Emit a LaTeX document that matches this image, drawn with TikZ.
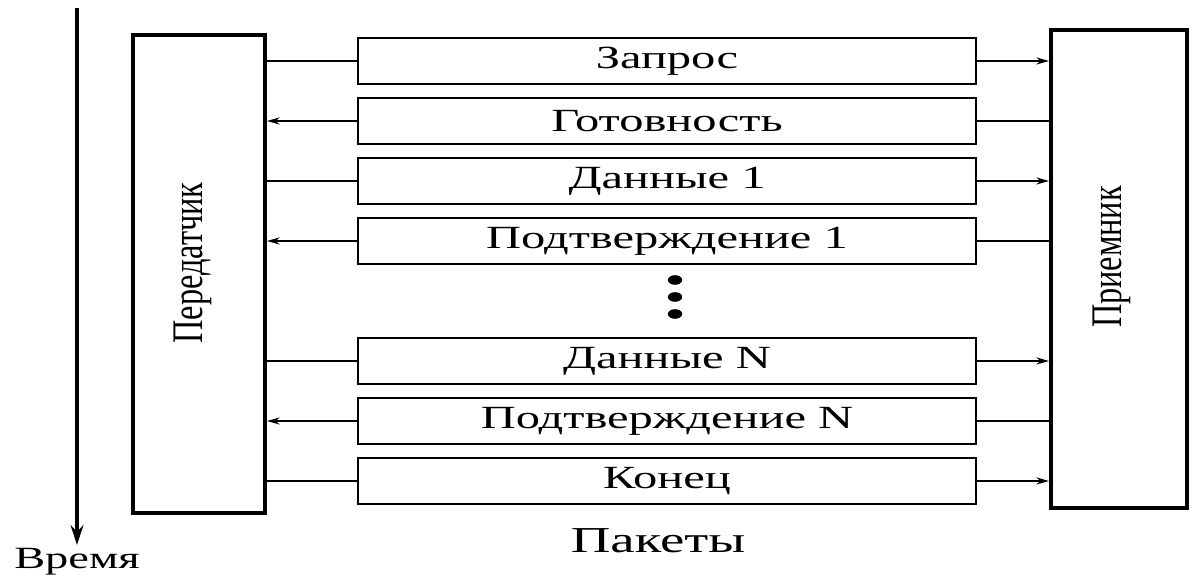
\documentclass[tikz,border=0pt]{standalone}
\usepackage{fontspec}
\setmainfont{Liberation Serif}
\usepackage{graphicx}
\usetikzlibrary{arrows.meta}

\newcommand{\wide}[1]{\scalebox{1.5}[1]{#1}}
\newcommand{\tall}[1]{\scalebox{1}[1.35]{#1}}

\begin{document}
\begin{tikzpicture}[
  station/.style = {draw, line width = 2.8pt, minimum width = 3.3cm, minimum height = 11.95cm},
  packet/.style = {draw, line width = 2pt, minimum width = 15.45cm, minimum height = 1.15cm, inner sep = 0pt, font = \fontsize{23}{23}\selectfont},
  link/.style = {line width = 1.4pt},
  msg/.style = {link, -{Stealth[length = 9pt, width = 5pt]}}
]
\useasboundingbox (0,0) rectangle (29.8,14.475);
\node [station] (tx) at (4.975,7.625) {};
\node [station, minimum width = 3.4cm] (rx) at (27.975,7.75) {};
\node [rotate = 90, font = \fontsize{23}{23}\selectfont] (txname) at (4.83,7.9) {\tall{Передатчик}};
\node [rotate = 90, font = \fontsize{23}{23}\selectfont] (rxname) at (27.8,8.05) {\tall{Приемник}};

\node [packet] (p1) at (16.675,12.95) {\wide{Запрос}};
\node [packet] (p2) at (16.675,11.45) {\wide{Готовность}};
\node [packet] (p3) at (16.675,9.95) {\wide{Данные 1}};
\node [packet] (p4) at (16.675,8.45) {\wide{Подтверждение 1}};
\node [packet] (p5) at (16.675,5.45) {\wide{Данные N}};
\node [packet] (p6) at (16.675,3.95) {\wide{Подтверждение N}};
\node [packet] (p7) at (16.675,2.45) {\wide{Конец}};
\node [font = \fontsize{26}{26}\selectfont] (pkts) at (16.45,0.95) {\wide{Пакеты}};

% ... between the two parts
\foreach \y in {7.475,7.05,6.625}
  \fill (16.875,\y) ellipse (0.18 and 0.12);

% sender -> receiver
\foreach \p in {p1,p3,p5,p7} {
  \draw [link] (tx.east |- \p.west) -- (\p.west);
  \draw [msg] (\p.east) -- (rx.west |- \p.east);
}
% receiver -> sender
\foreach \p in {p2,p4,p6} {
  \draw [msg] (\p.west) -- (tx.east |- \p.west);
  \draw [link] (\p.east) -- (rx.west |- \p.east);
}

\coordinate (t0) at (1.925,14.275);
\coordinate (t1) at (1.925,0.85);
\draw [line width = 2.4pt, -{Stealth[length = 14pt, width = 9pt]}] (t0) -- (t1)
  node [below, inner sep = 1pt, font = \fontsize{22}{22}\selectfont] (time) {\wide{Время}};
\end{tikzpicture}
\end{document}
